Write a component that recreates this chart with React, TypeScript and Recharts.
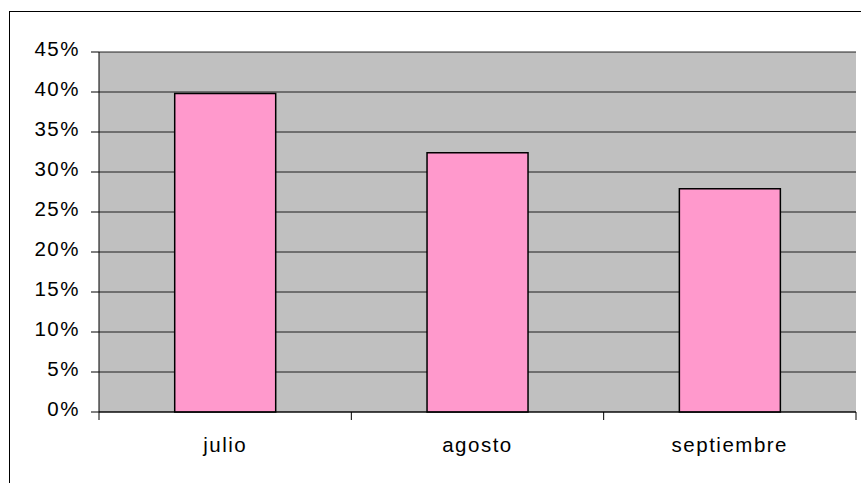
import React from 'react'
import { BarChart, Bar, XAxis, YAxis, CartesianGrid } from 'recharts'

const months = ['julio', 'agosto', 'septiembre']
const shares = [39.8, 32.4, 27.9]
const yTicks = [0, 5, 10, 15, 20, 25, 30, 35, 40, 45]

const data = months.map((m, i) => ({ month: m, value: shares[i] }))

const W = 861
const H = 483
const PLOT_LEFT = 99
const PLOT_RIGHT = 856
const BAND = (PLOT_RIGHT - PLOT_LEFT) / months.length
const FONT = { fontFamily: '"Liberation Sans", Arial, sans-serif', fontSize: 20.5, letterSpacing: 1.5, fill: '#000' }

function XTick(props: any) {
  const { x, y, payload, index } = props
  const axisY = y - 26
  const left = x - BAND / 2
  return (
    <g>
      <line x1={left} x2={left} y1={axisY} y2={axisY + 8} stroke="#000" />
      {index === months.length - 1 && (
        <line x1={x + BAND / 2} x2={x + BAND / 2} y1={axisY} y2={axisY + 8} stroke="#000" />
      )}
      <text x={x} y={y + 14} textAnchor="middle" style={FONT}>
        {payload.value}
      </text>
    </g>
  )
}

function YTick(props: any) {
  const { x, y, payload } = props
  return (
    <text x={x} y={y + 4} textAnchor="end" style={FONT}>
      {payload.value + '%'}
    </text>
  )
}

export default function App() {
  return (
    <div style={{ position: 'absolute', left: 0, top: 0, width: W, height: H, background: '#fff', overflow: 'hidden' }}>
      <div style={{ position: 'absolute', left: 9, top: 11, width: 900, height: 500, borderTop: '1px solid #000', borderLeft: '1px solid #000' }} />
      <div style={{ position: 'absolute', left: 0, top: 0 }}>
        <BarChart width={W} height={H} data={data} margin={{ top: 52, right: W - PLOT_RIGHT, bottom: 31, left: 0 }} barCategoryGap="30%">
          <CartesianGrid vertical={false} fill="#C0C0C0" stroke="#000" strokeOpacity={0.85} />
          <XAxis dataKey="month" height={40} stroke="#000" tickLine={false} tickSize={8} tickMargin={18} tick={<XTick />} interval={0} />
          <YAxis width={PLOT_LEFT} domain={[0, 45]} ticks={yTicks} stroke="#000" tickSize={8} tickMargin={11} tick={<YTick />} interval={0} />
          <YAxis yAxisId="r" orientation="right" width={0} domain={[0, 45]} stroke="#808080" tick={false} tickLine={false} />
          <Bar dataKey="value" fill="#FF99CC" stroke="#000" strokeWidth={1.5} isAnimationActive={false} />
        </BarChart>
      </div>
    </div>
  )
}
